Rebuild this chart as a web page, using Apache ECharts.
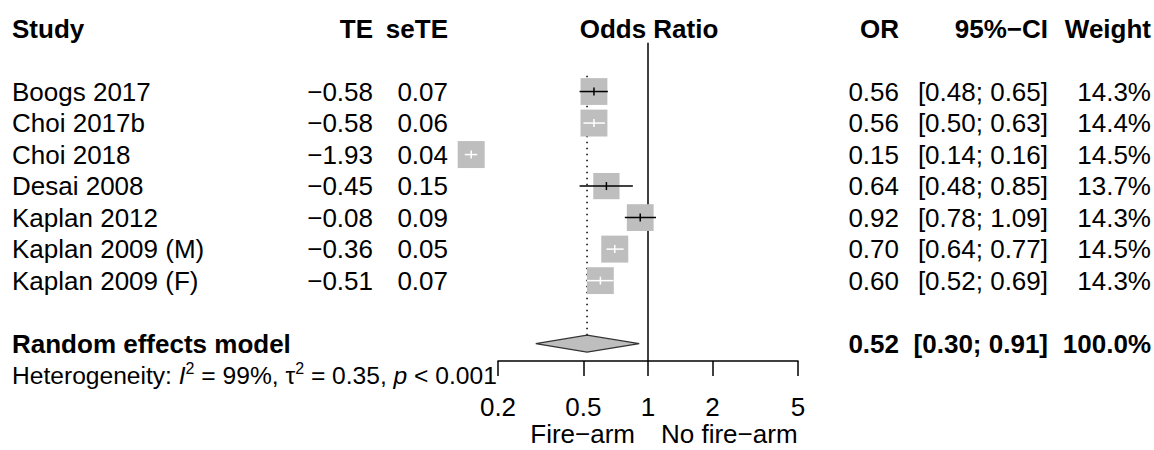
<!DOCTYPE html>
<html><head><meta charset="utf-8">
<script src="https://cdn.jsdelivr.net/npm/echarts@6/dist/echarts.min.js"></script>
<style>html,body{margin:0;padding:0;background:#fff}#c{width:1154px;height:450px}</style>
</head><body><div id="c"></div>
<script>
// ---- data ----
const studies = ['Boogs 2017','Choi 2017b','Choi 2018','Desai 2008','Kaplan 2012','Kaplan 2009 (M)','Kaplan 2009 (F)'];
const te      = [-0.58,-0.58,-1.93,-0.45,-0.08,-0.36,-0.51];
const seTE    = [0.07,0.06,0.04,0.15,0.09,0.05,0.07];
const oddsRatio = [0.56,0.56,0.15,0.64,0.92,0.70,0.60];
const ciLower = [0.48,0.50,0.14,0.48,0.78,0.64,0.52];
const ciUpper = [0.65,0.63,0.16,0.85,1.09,0.77,0.69];
const weights = [14.3,14.4,14.5,13.7,14.3,14.5,14.3];
const pooledLabel = 'Random effects model';
const pooledOR = 0.52, pooledLower = 0.30, pooledUpper = 0.91, pooledWeight = 100.0;
const hetI2 = '99%', hetTau2 = '0.35', hetP = '< 0.001';
const headers = ['Study','TE','seTE','Odds Ratio','OR','95%\u2212CI','Weight'];
const tickValues = [0.2,0.5,1,2,5];
const tickLabels = ['0.2','0.5','1','2','5'];
const refValue = 1;
const labelLeft = 'Fire\u2212arm', labelRight = 'No fire\u2212arm';

// ---- layout (pixels / rows) ----
const FONT = '"Liberation Sans", Arial, Helvetica, sans-serif';
const FS = 26;
const HFS = 24.6;
const COL = {study:12, te:373, sete:448, plotCenter:649, or:899, ci:1048, weight:1151};
const ROW_HEADER = -2, ROW_POOLED = 8, ROW_HET = 9, ROW_SIDE = 10.88;
const BOX_MAX = 27;
const maxW = Math.max(...weights);

const fmtSigned = v => (v < 0 ? '\u2212' : '') + Math.abs(v).toFixed(2);
const fmtCI = (l, h) => '[' + l.toFixed(2) + '; ' + h.toFixed(2) + ']';

function txt(x, y, text, align, bold, size, lh) {
  const st = {
    text:text, fill:'#000',
    fontFamily:FONT, fontSize:size||FS, fontWeight:bold?'bold':'normal',
    align:align, textAlign:align, verticalAlign:'middle', textVerticalAlign:'middle'};
  if (lh) st.lineHeight = lh;
  return {type:'text', x:x, y:y, style:st};
}

const chart = echarts.init(document.getElementById('c'), null, {renderer:'svg'});

const studyRows = studies.map((s,i)=>[0,i]);

const option = {
  animation:false,
  backgroundColor:'#fff',
  grid:{left:498, top:28.5, width:300, height:332.5, containLabel:false, outerBoundsMode:'none'},
  xAxis:{
    type:'value', min:Math.log(0.2), max:Math.log(5),
    axisLine:{show:true, onZero:false, lineStyle:{color:'#000', width:1.5}},
    axisTick:{show:true, length:15, inside:false, customValues:tickValues.map(Math.log), lineStyle:{color:'#000', width:1.5}},
    axisLabel:{show:true, margin:33, color:'#000', fontSize:FS, fontFamily:FONT, customValues:tickValues.map(Math.log),
      formatter:v=>{const k=tickValues.findIndex(t=>Math.abs(Math.log(t)-v)<1e-6); return k>=0?tickLabels[k]:'';}},
    splitLine:{show:false}
  },
  yAxis:{type:'value', inverse:true, min:-2, max:8.55, show:false, splitLine:{show:false}},
  series:[
    // reference line and pooled dotted line
    {type:'custom', silent:true, clip:false, data:[[0]], z:1,
      renderItem:(p,api)=>{
        const a = api.coord([Math.log(refValue), -1.55]);
        const b = api.coord([Math.log(refValue), 8.55]);
        const c = api.coord([Math.log(pooledOR), -0.5]);
        const d = api.coord([Math.log(pooledOR), ROW_POOLED]);
        return {type:'group', children:[
          {type:'line', shape:{x1:a[0],y1:a[1],x2:b[0],y2:b[1]}, style:{stroke:'#000', lineWidth:1.5}},
          {type:'line', shape:{x1:c[0],y1:c[1],x2:d[0],y2:d[1]}, style:{stroke:'#000', lineWidth:1.5, lineDash:[1.5,4.5]}}
        ]};
      }},
    // study boxes and CIs
    {type:'custom', silent:true, clip:false, z:3,
      data: studies.map((s,i)=>[Math.log(oddsRatio[i]), i, Math.log(ciLower[i]), Math.log(ciUpper[i]), weights[i]]),
      renderItem:(p,api)=>{
        const c = api.coord([api.value(0), api.value(1)]);
        const lo = api.coord([api.value(2), api.value(1)]);
        const hi = api.coord([api.value(3), api.value(1)]);
        const s = BOX_MAX * Math.sqrt(api.value(4)/maxW);
        const inside = lo[0] >= c[0]-s/2 && hi[0] <= c[0]+s/2;
        const col = inside ? '#fff' : '#000';
        return {type:'group', children:[
          {type:'rect', shape:{x:c[0]-s/2, y:c[1]-s/2, width:s, height:s}, style:{fill:'#bebebe'}},
          {type:'line', shape:{x1:lo[0],y1:c[1],x2:hi[0],y2:c[1]}, style:{stroke:col, lineWidth:1.5}},
          {type:'line', shape:{x1:c[0],y1:c[1]-4,x2:c[0],y2:c[1]+4}, style:{stroke:col, lineWidth:1.5}}
        ]};
      }},
    // pooled diamond
    {type:'custom', silent:true, clip:false, z:3,
      data:[[Math.log(pooledOR), ROW_POOLED, Math.log(pooledLower), Math.log(pooledUpper)]],
      renderItem:(p,api)=>{
        const r = api.value(1);
        const c = api.coord([api.value(0), r]);
        const lo = api.coord([api.value(2), r]);
        const hi = api.coord([api.value(3), r]);
        const t = api.coord([api.value(0), r-0.27]);
        const b = api.coord([api.value(0), r+0.27]);
        return {type:'polygon', shape:{points:[lo, [c[0],t[1]], hi, [c[0],b[1]]]},
          style:{fill:'#bebebe', stroke:'#333', lineWidth:1.2}};
      }},
    // table text
    {type:'custom', silent:true, clip:false, z:4, data:studyRows,
      renderItem:(p,api)=>{
        const i = p.dataIndex;
        const y = api.coord([0, i])[1];
        return {type:'group', children:[
          txt(COL.study, y, studies[i], 'left'),
          txt(COL.te, y, fmtSigned(te[i]), 'right'),
          txt(COL.sete, y, seTE[i].toFixed(2), 'right'),
          txt(COL.or, y, oddsRatio[i].toFixed(2), 'right'),
          txt(COL.ci, y, fmtCI(ciLower[i], ciUpper[i]), 'right'),
          txt(COL.weight, y, weights[i].toFixed(1) + '%', 'right')
        ]};
      }},
    // headers, pooled row, heterogeneity, axis side labels
    {type:'custom', silent:true, clip:false, z:4, data:[[0]],
      renderItem:(p,api)=>{
        const yh = api.coord([0, ROW_HEADER])[1];
        const yp = api.coord([0, ROW_POOLED])[1];
        const yhet = api.coord([0, ROW_HET])[1];
        const xref = api.coord([Math.log(refValue), 0])[0];
        const ylab = api.coord([0, ROW_SIDE])[1];
        return {type:'group', children:[
          txt(COL.study, yh, headers[0], 'left', true),
          txt(COL.te, yh, headers[1], 'right', true),
          txt(COL.sete, yh, headers[2], 'right', true),
          txt(COL.plotCenter, yh, headers[3], 'center', true),
          txt(COL.or, yh, headers[4], 'right', true),
          txt(COL.ci, yh, headers[5], 'right', true),
          txt(COL.weight, yh, headers[6], 'right', true),
          txt(COL.study, yp, pooledLabel, 'left', true),
          txt(COL.or, yp, pooledOR.toFixed(2), 'right', true),
          txt(COL.ci, yp, fmtCI(pooledLower, pooledUpper), 'right', true),
          txt(COL.weight, yp, pooledWeight.toFixed(1) + '%', 'right', true),
          {type:'text', x:COL.study, y:yhet, style:{
            text:'Heterogeneity: {i|I}{s|2} = ' + hetI2 + ', {n|\u03c4}{s|2} = ' + hetTau2 + ', {i|p} ' + hetP,
            fill:'#000', fontSize:HFS, fontFamily:FONT, align:'left', textAlign:'left', verticalAlign:'middle', textVerticalAlign:'middle',
            rich:{ i:{fontSize:HFS, fontFamily:FONT, fontStyle:'italic', fill:'#000'},
                   n:{fontSize:HFS, fontFamily:FONT, fill:'#000'},
                   s:{fontSize:16, fontFamily:FONT, fill:'#000', verticalAlign:'top', padding:[0,0,14,0]} }}},
          txt(xref - 13, ylab, labelLeft, 'right', false, FS, 20),
          txt(xref + 13, ylab, labelRight, 'left', false, FS, 20)
        ]};
      }}
  ]
};
chart.setOption(option);
</script>
</body></html>
